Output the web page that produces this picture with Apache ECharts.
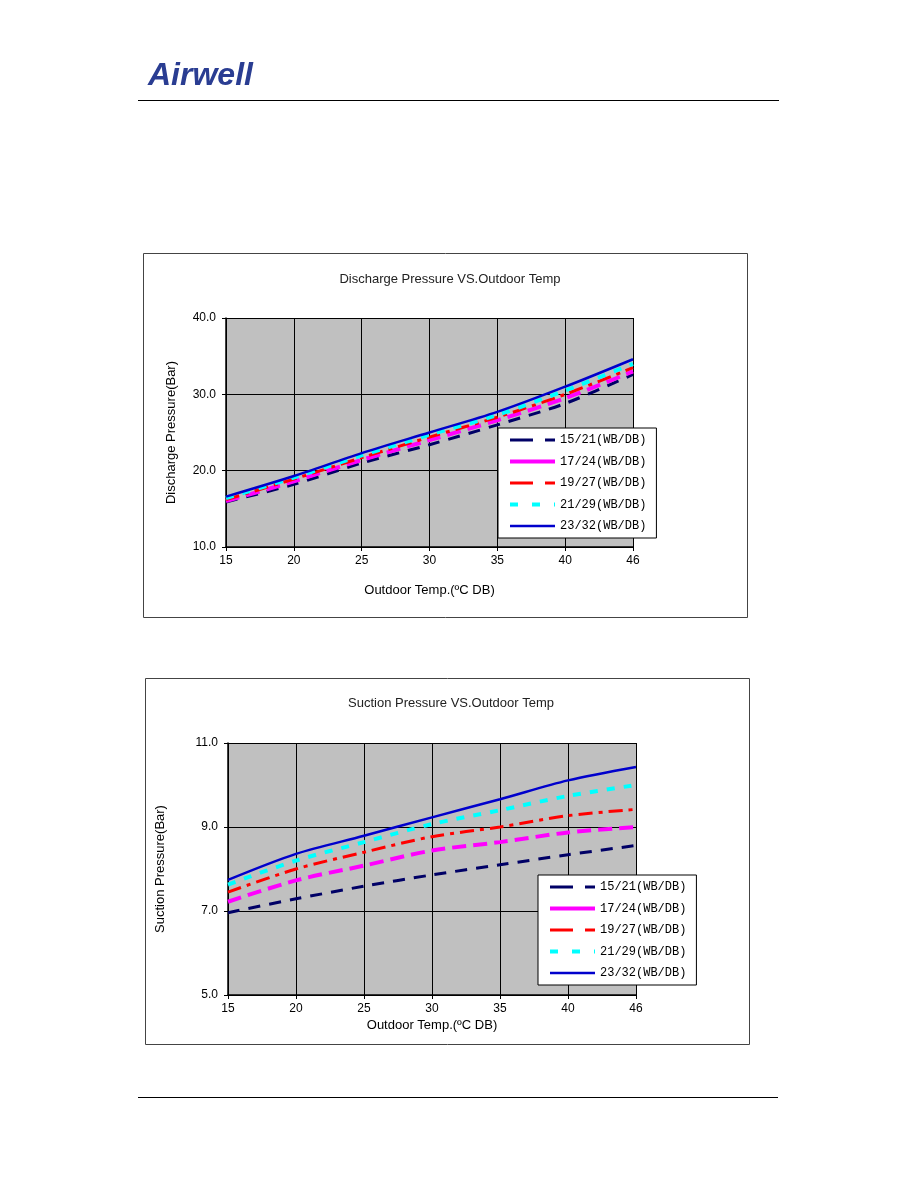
<!DOCTYPE html>
<html>
<head>
<meta charset="utf-8">
<script src="https://cdn.jsdelivr.net/npm/echarts@6/dist/echarts.min.js"></script>
<style>
html,body{margin:0;padding:0;background:#fff;}
#c{width:918px;height:1188px;}
</style>
</head>
<body>
<div id="c"></div>
<script>
// ---- data ----
const temps = ['15', '20', '25', '30', '35', '40', '46'];
const seriesNames = ['15/21(WB/DB)', '17/24(WB/DB)', '19/27(WB/DB)', '21/29(WB/DB)', '23/32(WB/DB)'];
// Discharge pressure (Bar)
const dis_15_21 = [15.9, 18.2, 21.0, 23.4, 26.0, 28.8, 32.6];
const dis_17_24 = [16.0, 18.6, 21.4, 24.0, 26.6, 29.5, 33.0];
const dis_19_27 = [16.2, 18.9, 21.7, 24.4, 27.0, 30.0, 33.5];
const dis_21_29 = [16.4, 19.1, 22.0, 24.7, 27.3, 30.5, 34.0];
const dis_23_32 = [16.6, 19.3, 22.3, 25.0, 27.7, 31.0, 34.6];
// Suction pressure (Bar)
const suc_15_21 = [6.96, 7.29, 7.59, 7.86, 8.10, 8.34, 8.56];
const suc_17_24 = [7.22, 7.73, 8.08, 8.44, 8.64, 8.87, 9.00];
const suc_19_27 = [7.45, 8.00, 8.40, 8.77, 9.00, 9.27, 9.42];
const suc_21_29 = [7.63, 8.20, 8.64, 9.07, 9.40, 9.74, 10.00];
const suc_23_32 = [7.74, 8.36, 8.79, 9.23, 9.66, 10.11, 10.43];
const disTicks = [10, 20, 30, 40];
const sucTicks = [5, 7, 9, 11];

// ---- styles ----
const styles = [
  {color: '#000066', width: 3, type: [12, 9], legendType: [23, 12]},
  {color: '#ff00ff', width: 4, type: [14, 7], legendType: 'solid'},
  {color: '#ff0000', width: 3, type: [14, 6, 4, 6], legendType: [23, 12]},
  {color: '#00ffff', width: 4, type: [8, 9], legendType: [8, 14]},
  {color: '#0000cc', width: 2.5, type: 'solid', legendType: 'solid'}
];
const disData = [dis_15_21, dis_17_24, dis_19_27, dis_21_29, dis_23_32];
const sucData = [suc_15_21, suc_17_24, suc_19_27, suc_21_29, suc_23_32];

function mkSeries(dataSets, idx) {
  return dataSets.map((d, i) => ({
    name: seriesNames[i],
    type: 'line',
    xAxisIndex: idx, yAxisIndex: idx,
    data: d,
    smooth: 0.3,
    symbol: 'none',
    lineStyle: {color: styles[i].color, width: styles[i].width, type: styles[i].type},
    itemStyle: {color: styles[i].color},
    z: 3
  }));
}

const axisFont = {color: '#000', fontSize: 12, fontFamily: 'Liberation Sans, Arial, sans-serif'};

function xAx(gi, nameGap) {
  return {
    type: 'category', gridIndex: gi, data: temps, boundaryGap: false,
    name: 'Outdoor Temp.(\u00BAC DB)', nameLocation: 'middle', nameGap: nameGap,
    nameTextStyle: {color: '#000', fontSize: 13, fontFamily: 'Liberation Sans, Arial, sans-serif'},
    axisLine: {lineStyle: {color: '#000', width: 1.5}},
    axisTick: {show: true, length: 4, lineStyle: {color: '#000'}},
    axisLabel: Object.assign({margin: 8}, axisFont),
    splitLine: {show: true, lineStyle: {color: '#000', width: 1}}
  };
}
function yAx(gi, name, ticks, nameGap) {
  return {
    type: 'value', gridIndex: gi, min: ticks[0], max: ticks[ticks.length - 1],
    interval: ticks[1] - ticks[0],
    name: name, nameLocation: 'middle', nameGap: nameGap,
    nameTextStyle: {color: '#000', fontSize: 13, fontFamily: 'Liberation Sans, Arial, sans-serif'},
    axisLine: {show: true, lineStyle: {color: '#000', width: 1.5}},
    axisTick: {show: true, length: 4, lineStyle: {color: '#000'}},
    axisLabel: Object.assign({margin: 10, formatter: v => v.toFixed(1)}, axisFont),
    splitLine: {show: true, lineStyle: {color: '#000', width: 1}}
  };
}
function legend(left, top) {
  return {
    orient: 'vertical', left: left, top: top,
    data: seriesNames.map((n, i) => ({
      name: n,
      lineStyle: {type: styles[i].legendType, width: styles[i].width, color: styles[i].color}
    })),
    backgroundColor: '#fff', borderColor: '#000', borderWidth: 1,
    padding: [6, 10, 6, 10], itemGap: 9.5, itemWidth: 45, itemHeight: 15,
    itemStyle: {opacity: 0, color: 'transparent', borderWidth: 0},
    lineStyle: {width: 'inherit'},
    selectedMode: false,
    textStyle: {color: '#000', fontSize: 12, fontFamily: 'Liberation Mono, DejaVu Sans Mono, monospace'}
  };
}

const chart = echarts.init(document.getElementById('c'), null, {renderer: 'canvas'});
chart.setOption({
  animation: false,
  backgroundColor: '#fff',
  title: [
    {text: 'Discharge Pressure VS.Outdoor Temp', left: 445, top: 268, textAlign: 'center',
     textStyle: {color: '#222', fontSize: 13, fontWeight: 'normal', fontFamily: 'Liberation Sans, Arial, sans-serif'}},
    {text: 'Suction Pressure VS.Outdoor Temp', left: 446, top: 692, textAlign: 'center',
     textStyle: {color: '#222', fontSize: 13, fontWeight: 'normal', fontFamily: 'Liberation Sans, Arial, sans-serif'}}
  ],
  grid: [
    {left: 226, top: 318, width: 407, height: 229, show: true, backgroundColor: '#c0c0c0', borderWidth: 0},
    {left: 228, top: 743, width: 408, height: 252, show: true, backgroundColor: '#c0c0c0', borderWidth: 0}
  ],
  xAxis: [xAx(0, 37), xAx(1, 24)],
  yAxis: [yAx(0, 'Discharge Pressure(Bar)', disTicks, 48), yAx(1, 'Suction Pressure(Bar)', sucTicks, 61)],
  legend: [legend(498, 428), legend(538, 875)],
  graphic: [
    {type: 'text', left: 148, top: 60, style: {text: 'Airwell', fill: '#2a3d92', font: 'italic bold 32px "Liberation Sans", Arial, sans-serif'}},
    {type: 'line', shape: {x1: 138, y1: 100.5, x2: 779, y2: 100.5}, style: {stroke: '#000', lineWidth: 1.2}},
    {type: 'line', shape: {x1: 138, y1: 1097.5, x2: 778, y2: 1097.5}, style: {stroke: '#000', lineWidth: 1}},
    {type: 'rect', shape: {x: 143.5, y: 253.5, width: 604, height: 364}, style: {fill: 'none', stroke: '#444', lineWidth: 1}, z: -1},
    {type: 'rect', shape: {x: 145.5, y: 678.5, width: 604, height: 366}, style: {fill: 'none', stroke: '#444', lineWidth: 1}, z: -1}
  ],
  series: mkSeries(disData, 0).concat(mkSeries(sucData, 1))
});
</script>
</body>
</html>
